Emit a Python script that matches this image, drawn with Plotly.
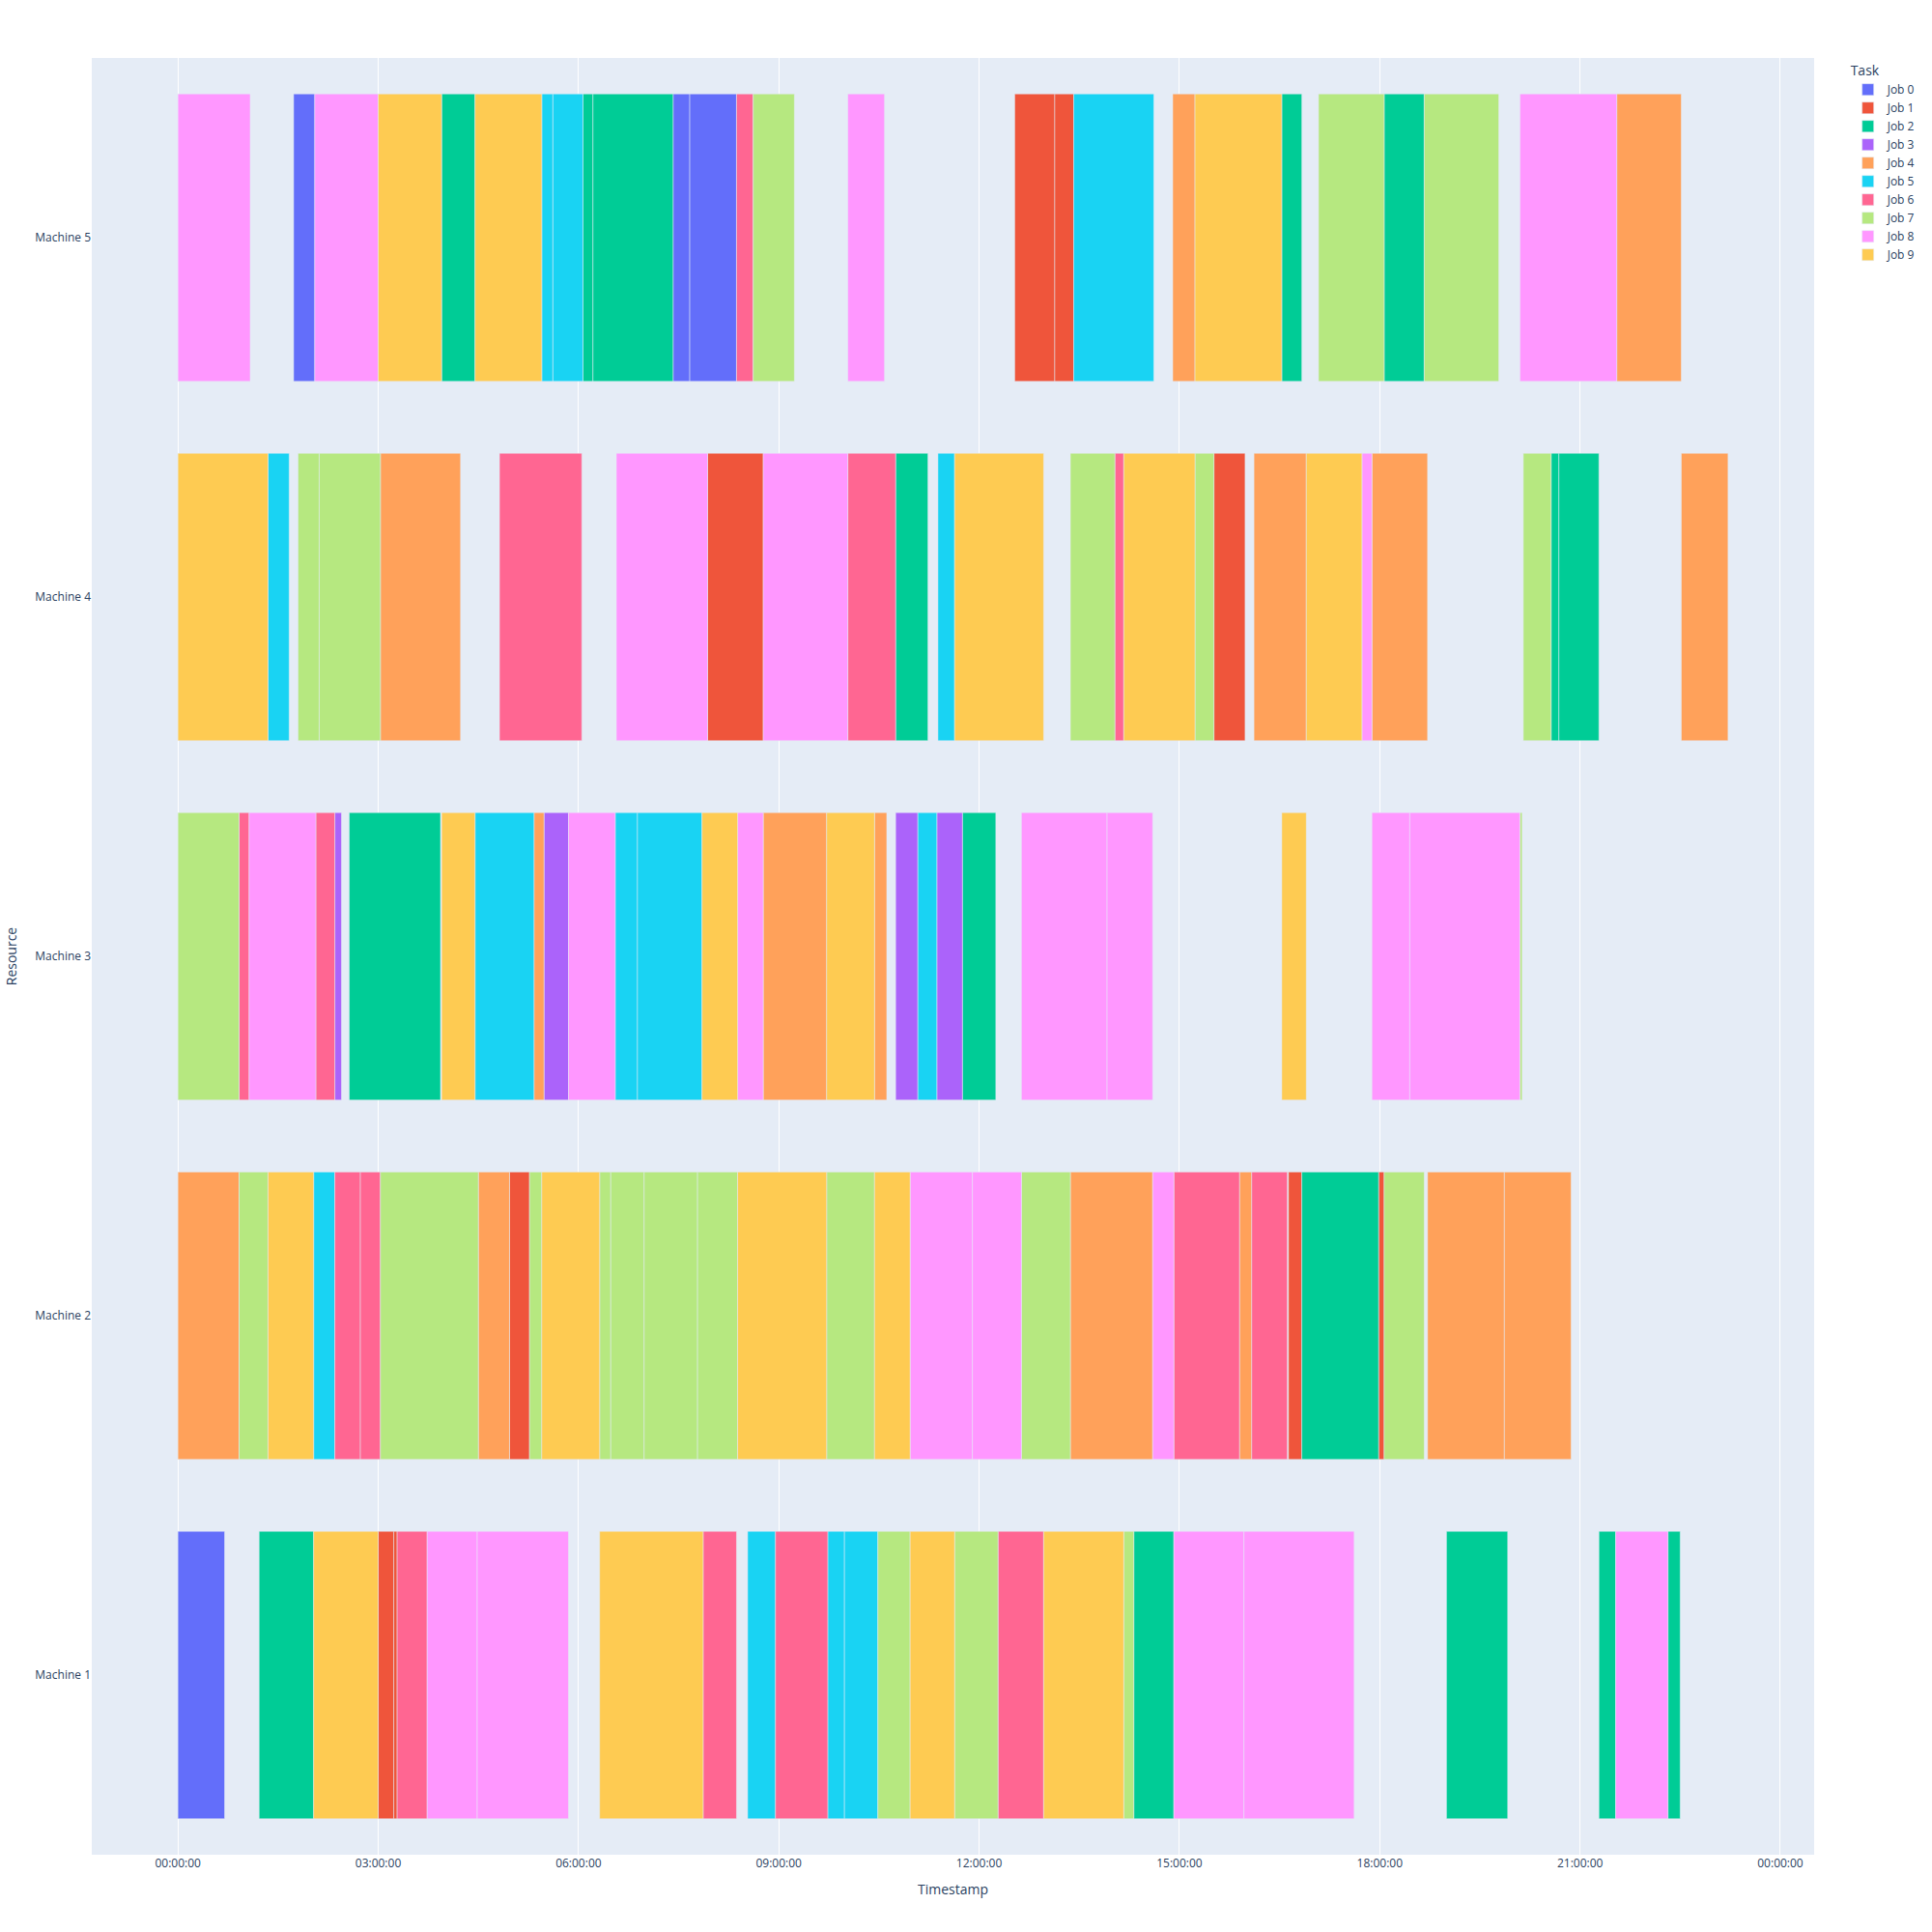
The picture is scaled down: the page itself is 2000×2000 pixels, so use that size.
import pandas as pd
import plotly.express as px

BASE_DATE = "2024-01-01"
job_order = [f"Job {i}" for i in range(10)]
machine_order = ["Machine 5", "Machine 4", "Machine 3", "Machine 2", "Machine 1"]

# Machine 5
m5_jobs = [8, 0, 8, 9, 2, 9, 5, 5, 2, 2, 0, 0, 6, 7, 8, 1, 1, 5, 4, 9, 2, 7, 2, 7, 8, 4]
m5_start = ["00:00", "01:44", "02:03", "03:00", "03:57", "04:27", "05:27", "05:37", "06:04", "06:13",
            "07:25", "07:40", "08:22", "08:37", "10:02", "12:32", "13:08", "13:25", "14:54", "15:14",
            "16:32", "17:05", "18:04", "18:40", "20:06", "21:33"]
m5_end = ["01:05", "02:03", "03:00", "03:57", "04:27", "05:27", "05:37", "06:04", "06:13", "07:25",
          "07:40", "08:22", "08:37", "09:14", "10:35", "13:08", "13:25", "14:37", "15:14", "16:32",
          "16:50", "18:04", "18:40", "19:47", "21:33", "22:31"]

# Machine 4
m4_jobs = [9, 5, 7, 7, 4, 6, 8, 1, 8, 6, 2, 5, 9, 7, 6, 9, 7, 1, 4, 9, 8, 4, 7, 2, 2, 4]
m4_start = ["00:00", "01:21", "01:48", "02:07", "03:02", "04:49", "06:34", "07:56", "08:46", "10:02",
            "10:45", "11:23", "11:38", "13:22", "14:02", "14:10", "15:14", "15:31", "16:07", "16:54",
            "17:44", "17:53", "20:09", "20:34", "20:41", "22:31"]
m4_end = ["01:21", "01:40", "02:07", "03:02", "04:14", "06:03", "07:56", "08:46", "10:02", "10:45",
          "11:14", "11:38", "12:58", "14:02", "14:10", "15:14", "15:31", "15:59", "16:54", "17:44",
          "17:53", "18:43", "20:34", "20:41", "21:17", "23:13"]

# Machine 3
m3_jobs = [7, 6, 8, 6, 3, 2, 9, 5, 4, 3, 8, 5, 5, 9, 8, 4, 9, 4, 3, 5, 3, 2, 8, 8, 9, 8, 8, 7]
m3_start = ["00:00", "00:55", "01:04", "02:04", "02:21", "02:34", "03:57", "04:27", "05:20", "05:29",
            "05:51", "06:33", "06:53", "07:51", "08:23", "08:46", "09:43", "10:26", "10:45", "11:05",
            "11:22", "11:45", "12:38", "13:55", "16:32", "17:53", "18:27", "20:06"]
m3_end = ["00:55", "01:04", "02:04", "02:21", "02:27", "03:56", "04:27", "05:20", "05:29", "05:51",
          "06:33", "06:53", "07:51", "08:23", "08:46", "09:43", "10:26", "10:37", "11:05", "11:22",
          "11:45", "12:15", "13:55", "14:36", "16:54", "18:27", "20:06", "20:08"]

# Machine 2
m2_jobs = [4, 7, 9, 5, 6, 6, 7, 4, 1, 7, 9, 7, 7, 7, 7, 9, 7, 9, 8, 8, 7, 4, 8, 6, 4, 6, 1, 2, 1, 7, 4, 4]
m2_start = ["00:00", "00:55", "01:21", "02:02", "02:21", "02:44", "03:02", "04:30", "04:58", "05:16",
            "05:27", "06:19", "06:29", "06:59", "07:47", "08:23", "09:43", "10:26", "10:58", "11:54",
            "12:38", "13:22", "14:36", "14:55", "15:54", "16:05", "16:38", "16:50", "17:59", "18:04",
            "18:43", "19:52"]
m2_end = ["00:55", "01:21", "02:02", "02:21", "02:44", "03:02", "04:30", "04:58", "05:16", "05:27",
          "06:19", "06:29", "06:59", "07:47", "08:23", "09:43", "10:26", "10:58", "11:54", "12:38",
          "13:22", "14:36", "14:55", "15:54", "16:05", "16:37", "16:50", "17:59", "18:04", "18:40",
          "19:52", "20:52"]

# Machine 1
m1_jobs = [0, 2, 9, 1, 1, 6, 8, 8, 9, 6, 5, 6, 5, 5, 7, 9, 7, 6, 9, 7, 2, 8, 8, 2, 2, 8, 2]
m1_start = ["00:00", "01:13", "02:02", "03:00", "03:14", "03:17", "03:44", "04:29", "06:19", "07:52",
            "08:32", "08:57", "09:44", "09:59", "10:29", "10:58", "11:38", "12:17", "12:58", "14:10",
            "14:19", "14:55", "15:58", "19:00", "21:17", "21:32", "22:19"]
m1_end = ["00:42", "02:02", "03:00", "03:14", "03:17", "03:44", "04:29", "05:51", "07:52", "08:22",
          "08:57", "09:44", "09:59", "10:29", "10:58", "11:38", "12:17", "12:58", "14:10", "14:19",
          "14:55", "15:58", "17:37", "19:55", "21:32", "22:19", "22:30"]

rows = []
for name, jobs, starts, ends in [
    ("Machine 1", m1_jobs, m1_start, m1_end),
    ("Machine 2", m2_jobs, m2_start, m2_end),
    ("Machine 3", m3_jobs, m3_start, m3_end),
    ("Machine 4", m4_jobs, m4_start, m4_end),
    ("Machine 5", m5_jobs, m5_start, m5_end),
]:
    for j, s, e in zip(jobs, starts, ends):
        rows.append(dict(Task=f"Job {j}", Start=pd.Timestamp(f"{BASE_DATE} {s}"),
                         Finish=pd.Timestamp(f"{BASE_DATE} {e}"), Resource=name))

df = pd.DataFrame(rows)

fig = px.timeline(df, x_start="Start", x_end="Finish", y="Resource", color="Task",
                  category_orders={"Task": job_order, "Resource": machine_order})

fig.update_xaxes(title_text="Timestamp", tickformat="%H:%M:%S", dtick=3 * 3600 * 1000,
                 tick0=f"{BASE_DATE} 00:00:00")
fig.update_yaxes(title_text="Resource")
fig.update_layout(width=2000, height=2000, margin=dict(t=60), legend_title_text="Task")

fig.write_html("out.html")
